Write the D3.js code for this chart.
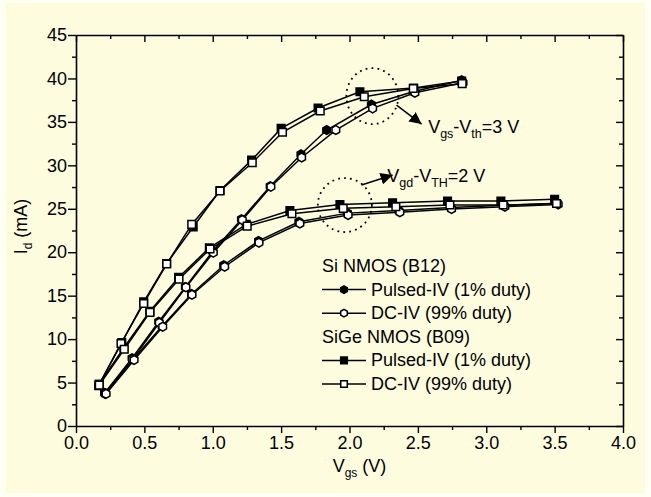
<!DOCTYPE html>
<html><head><meta charset="utf-8">
<script src="https://cdn.jsdelivr.net/npm/d3@7"></script>
<style>
html,body{margin:0;padding:0;background:#FFFFF2;}
svg{display:block;font-family:"Liberation Sans",Arial,sans-serif;}
</style></head>
<body>
<svg id="chart" width="651" height="497"></svg>
<script>
// ---- data ----
const xTicks = [0, 0.5, 1.0, 1.5, 2.0, 2.5, 3.0, 3.5, 4.0];
const yTicks = [0, 5, 10, 15, 20, 25, 30, 35, 40, 45];

// SiGe NMOS (B09), Pulsed-IV (1% duty) — filled squares
const sigePulsedHighVgs = [0.17, 0.335, 0.495, 0.663, 0.857, 1.053, 1.284, 1.50, 1.77, 2.076, 2.47, 2.82];
const sigePulsedHighId  = [4.8, 9.6, 14.3, 18.7, 22.9, 27.1, 30.6, 34.25, 36.6, 38.47, 38.9, 39.7];
const sigePulsedLowVgs  = [0.17, 0.35, 0.54, 0.75, 0.975, 1.245, 1.564, 1.93, 2.315, 2.717, 3.107, 3.50];
const sigePulsedLowId   = [4.8, 9.0, 13.2, 17.1, 20.5, 23.2, 24.8, 25.5, 25.7, 25.9, 25.9, 26.1];
// SiGe NMOS (B09), DC-IV (99% duty) — open squares
const sigeDcHighVgs = [0.166, 0.329, 0.495, 0.663, 0.846, 1.053, 1.289, 1.51, 1.786, 2.108, 2.466, 2.824];
const sigeDcHighId  = [4.64, 9.5, 14.1, 18.64, 23.2, 27.04, 30.3, 33.8, 36.25, 37.9, 38.85, 39.4];
const sigeDcLowVgs  = [0.17, 0.353, 0.541, 0.753, 0.98, 1.252, 1.579, 1.954, 2.339, 2.734, 3.124, 3.514];
const sigeDcLowId   = [4.7, 8.83, 13.08, 16.9, 20.37, 23.0, 24.43, 25.05, 25.24, 25.43, 25.43, 25.6];
// Si NMOS (B12), Pulsed-IV (1% duty) — filled hexagons
const siPulsedHighVgs = [0.21, 0.41, 0.605, 0.80, 1.0, 1.21, 1.42, 1.645, 1.833, 2.16, 2.47, 2.82];
const siPulsedHighId  = [3.8, 7.8, 12.0, 16.0, 20.1, 23.8, 27.6, 31.27, 34.06, 37.0, 38.5, 39.8];
const siPulsedLowVgs  = [0.21, 0.42, 0.63, 0.845, 1.08, 1.335, 1.63, 1.985, 2.36, 2.74, 3.13, 3.52];
const siPulsedLowId   = [3.8, 7.7, 11.5, 15.2, 18.5, 21.3, 23.5, 24.5, 24.8, 25.15, 25.4, 25.65];
// Si NMOS (B12), DC-IV (99% duty) — open hexagons
const siDcHighVgs = [0.214, 0.414, 0.609, 0.804, 1.004, 1.216, 1.425, 1.65, 1.90, 2.169, 2.478, 2.83];
const siDcHighId  = [3.68, 7.67, 11.89, 15.96, 19.95, 23.7, 27.54, 30.9, 34.06, 36.55, 38.35, 39.5];
const siDcLowVgs  = [0.22, 0.425, 0.634, 0.848, 1.087, 1.338, 1.637, 1.99, 2.368, 2.746, 3.136, 3.526];
const siDcLowId   = [3.7, 7.6, 11.43, 15.1, 18.33, 21.1, 23.3, 24.28, 24.6, 24.97, 25.24, 25.5];

const legendLabels = ["Pulsed-IV (1% duty)", "DC-IV (99% duty)", "Pulsed-IV (1% duty)", "DC-IV (99% duty)"];
const legendGroups = ["Si NMOS (B12)", "SiGe NMOS (B09)"];

// ---- layout ----
const svg = d3.select("#chart");
const M = {left: 76, right: 623, top: 35, bottom: 426};
const x = d3.scaleLinear().domain([0, 4]).range([M.left, M.right]);
const y = d3.scaleLinear().domain([0, 45]).range([M.bottom, M.top]);
const FONT = 18;

svg.append("rect").attr("x", 6).attr("y", 3).attr("width", 639).attr("height", 490).attr("fill", "#FEFCDF");

// axes
const minorX = d3.range(0.25, 4, 0.5);
const minorY = d3.range(2.5, 45, 5);
function styleAxis(g) {
  g.selectAll("path.domain").attr("stroke", "#000").attr("stroke-width", 1.6);
  g.selectAll(".tick line").attr("stroke", "#000").attr("stroke-width", 1.4);
  g.selectAll(".tick text").attr("font-size", FONT).attr("fill", "#000").attr("font-family", "Liberation Sans, Arial, sans-serif");
}
const gB = svg.append("g").attr("transform", `translate(0,${M.bottom})`)
  .call(d3.axisBottom(x).tickValues(xTicks).tickFormat(d3.format(".1f")).tickSize(7).tickPadding(3).tickSizeOuter(0));
styleAxis(gB);
gB.selectAll(".tick text").attr("dy", "0.74em");
svg.append("g").attr("transform", `translate(0,${M.bottom})`)
  .call(d3.axisBottom(x).tickValues(minorX).tickFormat("").tickSize(4).tickSizeOuter(0)).call(styleAxis).select(".domain").remove();

const gL = svg.append("g").attr("transform", `translate(${M.left},0)`)
  .call(d3.axisLeft(y).tickValues(yTicks).tickFormat(d3.format("d")).tickSize(8).tickPadding(1).tickSizeOuter(0));
styleAxis(gL);
svg.append("g").attr("transform", `translate(${M.left},0)`)
  .call(d3.axisLeft(y).tickValues(minorY).tickFormat("").tickSize(4).tickSizeOuter(0)).call(styleAxis).select(".domain").remove();

const gT = svg.append("g").attr("transform", `translate(0,${M.top})`)
  .call(d3.axisBottom(x).tickValues(xTicks).tickFormat("").tickSize(7).tickSizeOuter(0));
styleAxis(gT);
svg.append("g").attr("transform", `translate(0,${M.top})`)
  .call(d3.axisBottom(x).tickValues(minorX).tickFormat("").tickSize(4).tickSizeOuter(0)).call(styleAxis).select(".domain").remove();

const gR = svg.append("g").attr("transform", `translate(${M.right},0)`)
  .call(d3.axisLeft(y).tickValues(yTicks).tickFormat("").tickSize(7).tickSizeOuter(0));
styleAxis(gR);
svg.append("g").attr("transform", `translate(${M.right},0)`)
  .call(d3.axisLeft(y).tickValues(minorY).tickFormat("").tickSize(4).tickSizeOuter(0)).call(styleAxis).select(".domain").remove();

// axis titles
const xt = svg.append("text").attr("x", (M.left + M.right) / 2 + 10).attr("y", 472)
  .attr("text-anchor", "middle").attr("font-size", FONT);
xt.append("tspan").text("V");
xt.append("tspan").text("gs").attr("font-size", 12).attr("dy", 5);
xt.append("tspan").text(" (V)").attr("dy", -5);

const yt = svg.append("text").attr("transform", `translate(27,${(M.top + M.bottom) / 2 - 4}) rotate(-90)`)
  .attr("text-anchor", "middle").attr("font-size", FONT);
yt.append("tspan").text("I");
yt.append("tspan").text("d").attr("font-size", 12).attr("dy", 5);
yt.append("tspan").text(" (mA)").attr("dy", -5);

// series
const hexPath = r => {
  const pts = d3.range(6).map(i => { const a = Math.PI / 3 * i - Math.PI / 2; return [r * Math.cos(a), r * Math.sin(a)]; });
  return "M" + pts.map(p => p.join(",")).join("L") + "Z";
};
const sqPath = s => `M${-s/2},${-s/2}h${s}v${s}h${-s}Z`;

const series = [
  {vx: siPulsedHighVgs, vy: siPulsedHighId, shape: "hex", fill: "#000"},
  {vx: siPulsedLowVgs, vy: siPulsedLowId, shape: "hex", fill: "#000"},
  {vx: sigePulsedHighVgs, vy: sigePulsedHighId, shape: "sq", fill: "#000"},
  {vx: sigePulsedLowVgs, vy: sigePulsedLowId, shape: "sq", fill: "#000"},
  {vx: siDcHighVgs, vy: siDcHighId, shape: "hex", fill: "#fff"},
  {vx: siDcLowVgs, vy: siDcLowId, shape: "hex", fill: "#fff"},
  {vx: sigeDcHighVgs, vy: sigeDcHighId, shape: "sq", fill: "#fff"},
  {vx: sigeDcLowVgs, vy: sigeDcLowId, shape: "sq", fill: "#fff"}
];
const line = d3.line().x(d => x(d[0])).y(d => y(d[1]));
series.forEach(s => {
  const pts = s.vx.map((v, i) => [v, s.vy[i]]);
  svg.append("path").datum(pts).attr("d", line).attr("fill", "none").attr("stroke", "#000").attr("stroke-width", 1.5);
});
series.forEach(s => {
  const pts = s.vx.map((v, i) => [v, s.vy[i]]);
  svg.append("g").selectAll("path").data(pts).join("path")
    .attr("transform", d => `translate(${x(d[0])},${y(d[1])})`)
    .attr("d", s.shape === "hex" ? hexPath(4.4) : sqPath(7.6))
    .attr("fill", s.fill).attr("stroke", "#000").attr("stroke-width", 1.5);
});

// annotations (in data units)
const dotted = {stroke: "#000", "stroke-width": 1.8, "stroke-dasharray": "1.8,4.2", fill: "none"};
function ellipse(cxv, cyv, rx, ry) {
  const e = svg.append("ellipse").attr("cx", x(cxv)).attr("cy", y(cyv)).attr("rx", rx).attr("ry", ry);
  Object.entries(dotted).forEach(([k, v]) => e.attr(k, v));
}
ellipse(2.167, 37.97, 26, 28);
ellipse(1.966, 25.43, 27, 27);

svg.append("defs").append("marker").attr("id", "ah").attr("viewBox", "0 0 10 10")
  .attr("refX", 10).attr("refY", 5).attr("markerWidth", 12).attr("markerHeight", 12)
  .attr("markerUnits", "userSpaceOnUse").attr("orient", "auto")
  .append("path").attr("d", "M0,0L10,5L0,10Z").attr("fill", "#000");
function arrow(x1, y1, x2, y2) {
  svg.append("line").attr("x1", x(x1)).attr("y1", y(y1)).attr("x2", x(x2)).attr("y2", y(y2))
    .attr("stroke", "#000").attr("stroke-width", 1.5).attr("marker-end", "url(#ah)");
}
arrow(2.344, 36.94, 2.527, 34.75);
arrow(2.088, 27.73, 2.315, 28.88);

function subLabel(xv, yv, parts) {
  const t = svg.append("text").attr("x", x(xv)).attr("y", y(yv)).attr("font-size", FONT);
  let dy = 0;
  parts.forEach(p => {
    const s = t.append("tspan").text(p[0]);
    if (p[1]) { s.attr("font-size", 12.5).attr("dy", 5 - dy); dy = 5; }
    else { s.attr("dy", -dy); dy = 0; }
  });
}
subLabel(2.575, 33.68, [["V"], ["gs", 1], ["-V"], ["TH".toLowerCase(), 1], ["=3 V"]]);
subLabel(2.276, 28.11, [["V"], ["gd", 1], ["-V"], ["TH", 1], ["=2 V"]]);

// legend
const lg = svg.append("g");
const lx = 322, rowH = 23.6;
const rows = [
  {type: "title", text: legendGroups[0]},
  {type: "item", shape: "hex", fill: "#000", text: legendLabels[0]},
  {type: "item", shape: "hex", fill: "#fff", text: legendLabels[1]},
  {type: "title", text: legendGroups[1]},
  {type: "item", shape: "sq", fill: "#000", text: legendLabels[2]},
  {type: "item", shape: "sq", fill: "#fff", text: legendLabels[3]}
];
rows.forEach((r, i) => {
  const cy = 266 + i * rowH;
  if (r.type === "title") {
    lg.append("text").attr("x", lx).attr("y", cy + 6).attr("font-size", FONT).text(r.text);
  } else {
    lg.append("line").attr("x1", lx).attr("x2", lx + 44).attr("y1", cy).attr("y2", cy).attr("stroke", "#000").attr("stroke-width", 1.5);
    lg.append("path").attr("transform", `translate(${lx + 22},${cy})`).attr("d", r.shape === "hex" ? hexPath(3.8) : sqPath(6.6))
      .attr("fill", r.fill).attr("stroke", "#000").attr("stroke-width", 1.5);
    lg.append("text").attr("x", lx + 49).attr("y", cy + 6).attr("font-size", FONT).text(r.text);
  }
});
</script>
</body></html>
